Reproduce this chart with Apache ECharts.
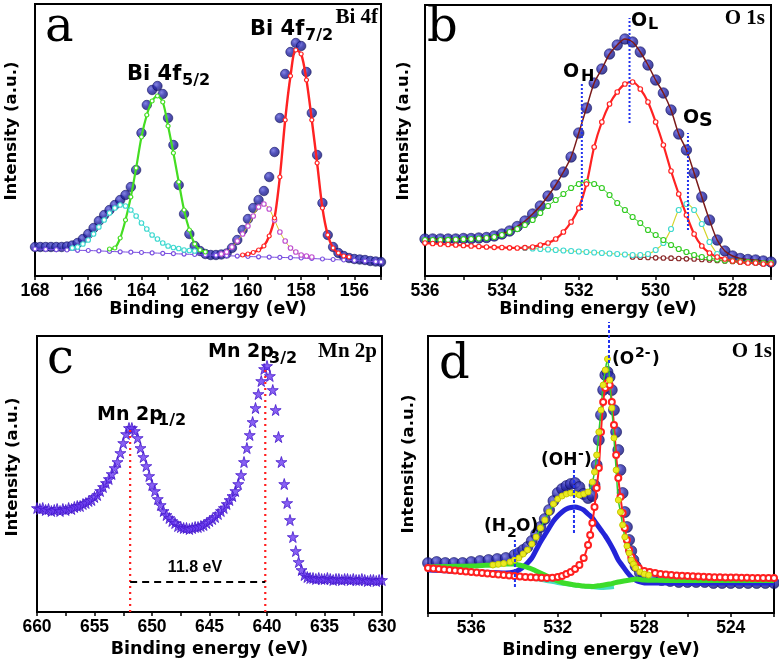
<!DOCTYPE html>
<html><head><meta charset="utf-8">
<script src="https://cdn.jsdelivr.net/npm/echarts@6/dist/echarts.min.js"></script>
<style>html,body{margin:0;padding:0;background:#fff}#c{width:779px;height:666px}</style>
</head><body><div id="c"></div>
<script>
// ---------- Panel a : Bi 4f ----------
const aLabels = [156,158,160,162,164,166,168];
const aTicks = [155,156,157,158,159,160,161,162,163,164,165,166,167,168];
const aData = [[168.0,29],[167.8,29],[167.6,29],[167.4,29],[167.2,29],[167.0,29],[166.8,29.5],[166.6,30.5],[166.4,33],[166.2,37],[166.0,42],[165.8,48],[165.6,55],[165.4,61],[165.2,66],[165.0,71],[164.8,76],[164.6,81],[164.4,89],[164.2,106],[164.0,143],[163.8,171],[163.6,186],[163.4,190],[163.2,182],[163.0,158],[162.8,131],[162.6,91],[162.4,62],[162.2,42],[162.0,30],[161.8,25],[161.6,22],[161.4,21],[161.2,21],[161.0,21.5],[160.8,22.5],[160.6,28],[160.4,36],[160.2,46],[160.0,57],[159.8,68],[159.6,76],[159.4,85],[159.2,99],[159.0,124],[158.8,158],[158.6,202],[158.4,224],[158.2,233],[158.0,230],[157.8,204],[157.6,163],[157.4,121],[157.2,73],[157.0,41],[156.8,29],[156.6,23],[156.4,20],[156.2,18],[156.0,17],[155.8,16.5],[155.6,16],[155.4,15],[155.2,14.5],[155.0,14]];
const aGreen = [[165.2,27],[165.0,28],[164.8,38],[164.6,56],[164.4,79],[164.2,108],[164.0,139],[163.8,161],[163.6,175],[163.4,180],[163.2,174],[163.0,150],[162.8,123],[162.6,94],[162.4,66],[162.2,46],[162.0,32],[161.8,26],[161.6,24]];
const aCyan = [[166.6,28],[166.4,29],[166.2,32],[166.0,36],[165.8,42],[165.6,49],[165.4,56],[165.2,63],[165.0,68],[164.8,71],[164.6,70],[164.4,66],[164.2,60],[164.0,53],[163.8,47],[163.6,41],[163.4,37],[163.2,33],[163.0,30],[162.8,28.5],[162.6,27.5],[162.4,26],[162.2,25.5],[162.0,25]];
const aRed = [[160.2,21],[160.0,22],[159.8,23.5],[159.6,26],[159.4,30],[159.2,40],[159.0,58],[158.8,99],[158.6,156],[158.4,200],[158.2,226],[158.0,222],[157.8,196],[157.6,156],[157.4,113],[157.2,68],[157.0,41],[156.8,28],[156.6,23],[156.4,20],[156.2,19]];
const aMagenta = [[161.0,22],[160.8,24],[160.6,29],[160.4,35],[160.2,42],[160.0,50],[159.8,60],[159.6,69],[159.4,72],[159.2,67],[159.0,56],[158.8,44],[158.6,35],[158.4,28],[158.2,24],[158.0,21],[157.8,20],[157.6,19]];
const aBase = [[168.0,27],[167.6,26.6],[167.2,26.3],[166.8,26],[166.4,25.7],[166.0,25.5],[165.6,25.1],[165.2,24.6],[164.8,24.2],[164.4,23.8],[164.0,23.5],[163.6,23.1],[163.2,22.7],[162.8,22.3],[162.4,21.9],[162.0,21.5],[161.6,21.1],[161.2,20.7],[160.8,20.3],[160.4,19.9],[160.0,19.5],[159.6,19.2],[159.2,18.9],[158.8,18.6],[158.4,18.3],[158.0,18],[157.6,17.5],[157.2,17],[156.8,16.5],[156.4,16],[156.0,15.5],[155.6,14.9],[155.2,14.3],[155.0,14]];

// ---------- Panel b : O 1s ----------
const bLabels = [528,530,532,534,536];
const bTicks = [527,528,529,530,531,532,533,534,535,536];
const bData = [[536.0,37],[535.8,37],[535.6,37],[535.4,37],[535.2,37],[535.0,37.5],[534.8,37.5],[534.6,38],[534.4,38.5],[534.2,40],[534.0,42],[533.8,45],[533.6,49.5],[533.4,55],[533.2,62],[533.0,70],[532.8,80],[532.6,91],[532.4,104],[532.2,119],[532.0,143],[531.8,168],[531.6,193],[531.4,207],[531.2,222],[531.0,231],[530.8,237],[530.6,234],[530.4,224],[530.2,211],[530.0,196],[529.8,183],[529.6,166],[529.4,142],[529.2,126],[529.0,103],[528.8,79],[528.6,56],[528.4,36],[528.2,25],[528.0,20],[527.8,17.5],[527.6,16.5],[527.4,16],[527.2,15],[527.0,14]];
const bRed = [[536.0,33],[535.8,32.5],[535.6,32],[535.4,31.5],[535.2,31],[535.0,30.5],[534.8,30],[534.6,29.5],[534.4,29],[534.2,28.7],[534.0,28.5],[533.8,28.2],[533.6,28],[533.4,28.3],[533.2,29],[533.0,31],[532.8,33],[532.6,37],[532.4,44],[532.2,54],[532.0,68],[531.8,92],[531.6,129],[531.4,154],[531.2,172],[531.0,184],[530.8,192],[530.6,194],[530.4,187],[530.2,174],[530.0,154],[529.8,131],[529.6,105],[529.4,82],[529.2,61],[529.0,42],[528.8,30],[528.6,23],[528.4,19],[528.2,17],[528.0,15],[527.8,14],[527.6,13],[527.4,13],[527.2,12],[527.0,12]];
const bGreen = [[536.0,36],[535.8,36],[535.6,36],[535.4,36.2],[535.2,36.5],[535.0,36.8],[534.8,37],[534.6,37.5],[534.4,38],[534.2,39],[534.0,41],[533.8,44],[533.6,47],[533.4,51],[533.2,56],[533.0,63],[532.8,70],[532.6,76],[532.4,82],[532.2,88],[532.0,92],[531.8,94],[531.6,92],[531.4,88],[531.2,81],[531.0,73],[530.8,66],[530.6,59],[530.4,53],[530.2,46],[530.0,41],[529.8,36],[529.6,31],[529.4,27],[529.2,24],[529.0,21],[528.8,19],[528.6,18],[528.4,16.5],[528.2,15.5],[528.0,15],[527.8,14.5],[527.6,14],[527.4,13.5],[527.2,13],[527.0,13]];
const bCyan = [[533.4,28],[533.2,27.5],[533.0,27],[532.8,26.5],[532.6,26],[532.4,25.5],[532.2,25],[532.0,24.5],[531.8,24],[531.6,23.5],[531.4,23],[531.2,22.5],[531.0,22],[530.8,21.5],[530.6,21],[530.4,21],[530.2,22],[530.0,26],[529.8,33],[529.6,47],[529.4,66],[529.2,72],[529.0,66],[528.8,52],[528.6,34],[528.4,22]];
const bBrown = [[530.6,19],[530.4,18.8],[530.2,18.5],[530.0,18.2],[529.8,18],[529.6,17.8],[529.4,17.5],[529.2,17.2],[529.0,17],[528.8,16.5],[528.6,16],[528.4,15.5],[528.2,15],[528.0,14.5],[527.8,14],[527.6,13.8],[527.4,13.5],[527.2,13.2],[527.0,13]];
const bMarkOH = [[531.92,66],[531.92,193]];
const bMarkOL = [[530.68,153],[530.68,258]];
const bMarkOS = [[529.16,46],[529.16,143]];

// ---------- Panel c : Mn 2p ----------
const cLabels = [630,635,640,645,650,655,660];
const cTicks = [630,632.5,635,637.5,640,642.5,645,647.5,650,652.5,655,657.5,660];
const cData = [[660,104],[659.75,103],[659.5,104],[659.25,102],[659,103],[658.75,101],[658.5,102],[658.25,103],[658,101],[657.75,103],[657.5,102],[657.25,104],[657,103],[656.75,105],[656.5,106],[656.25,106],[656,108],[655.75,109],[655.5,111],[655.25,112],[655,115],[654.75,117],[654.5,121],[654.25,125],[654,129],[653.75,133],[653.5,138],[653.25,144],[653,150],[652.75,159],[652.5,169],[652.25,178],[652,184],[651.75,184],[651.5,181],[651.25,174],[651,164],[650.75,155],[650.5,146],[650.25,136],[650,127],[649.75,121],[649.5,113],[649.25,107],[649,101],[648.75,97],[648.5,94],[648.25,91],[648,89],[647.75,86],[647.5,85],[647.25,84],[647,84],[646.75,83],[646.5,84],[646.25,85],[646,85],[645.75,86],[645.5,87],[645.25,89],[645,91],[644.75,93],[644.5,95],[644.25,98],[644,101],[643.75,104],[643.5,108],[643.25,112],[643,116],[642.75,121],[642.5,128],[642.25,137],[642,150],[641.75,164],[641.5,177],[641.25,190],[641,204],[640.75,218],[640.5,231],[640.25,243],[640,246],[639.75,236],[639.5,222],[639.25,202],[639,175],[638.75,150],[638.5,128],[638.25,109],[638,92],[637.75,75],[637.5,61],[637.25,50],[637,42],[636.75,37],[636.5,35],[636.25,34],[636,34],[635.75,33],[635.5,34],[635.25,33],[635,33],[634.75,34],[634.5,33],[634.25,32],[634,33],[633.75,33],[633.5,32],[633.25,33],[633,33],[632.75,32],[632.5,33],[632.25,32],[632,32],[631.75,33],[631.5,32],[631.25,31],[631,32],[630.75,32],[630.5,31],[630.25,32],[630,32]];
const cMark12 = [[651.9,0],[651.9,183]];
const cMark32 = [[640.15,0],[640.15,243]];
const cSplit = [[651.9,30],[640.15,30]];

// ---------- Panel d : O 1s ----------
const dLabels = [524,528,532,536];
const dTicks = [522,524,526,528,530,532,534,536,538];
const dData = [[538.0,50],[537.6,51],[537.2,50],[536.8,50],[536.4,50],[536.0,51],[535.6,52],[535.2,53],[534.8,54],[534.4,55],[534.0,58],[533.8,60],[533.6,63],[533.4,66],[533.2,72],[533.0,79],[532.8,86],[532.6,94],[532.4,103],[532.2,112],[532.0,120],[531.8,124],[531.6,127],[531.4,129],[531.2,130],[531.0,126],[530.8,119],[530.6,115],[530.4,117],[530.3,128],[530.2,148],[530.1,173],[530.0,198],[529.9,223],[529.8,238],[529.7,241],[529.6,236],[529.5,223],[529.4,203],[529.3,181],[529.2,163],[529.1,143],[529.0,120],[528.9,101],[528.8,86],[528.7,73],[528.6,62],[528.5,53],[528.4,47],[528.2,40],[528.0,37],[527.6,34],[527.2,33],[526.8,32],[526.4,31],[526.0,31],[525.6,31],[525.2,31],[524.8,30],[524.4,30],[524.0,30],[523.6,30],[523.2,30],[522.8,30],[522.4,30],[522.0,30]];
const dYellow = [[535.0,48],[534.75,48.7],[534.5,49.5],[534.2,51],[534.0,53],[533.8,55],[533.6,59],[533.4,63],[533.2,69],[533.0,76],[532.8,85],[532.6,93],[532.4,101],[532.2,109],[532.0,114],[531.8,117],[531.6,119],[531.4,120],[531.2,119],[531.0,118],[530.8,119],[530.6,121],[530.4,131],[530.3,141],[530.2,158],[530.1,181],[530.0,203],[529.9,228],[529.8,243],[529.7,254],[529.6,233],[529.5,205],[529.4,175],[529.3,143],[529.2,113],[529.1,101],[529.0,88],[528.9,76],[528.8,67],[528.7,60],[528.6,53],[528.5,49],[528.4,45],[528.2,41],[528.0,39],[527.8,38]];
const dRed = [[538.0,45],[537.75,44.5],[537.5,44],[537.25,43.5],[537.0,43],[536.75,42.5],[536.5,42],[536.25,41.5],[536.0,41],[535.75,40.5],[535.5,40],[535.25,39.5],[535.0,39],[534.75,38.5],[534.5,38],[534.25,37.5],[534.0,37],[533.75,36.5],[533.5,36],[533.25,35.8],[533.0,35.5],[532.75,35.2],[532.5,35],[532.25,35.3],[532.0,36],[531.8,37],[531.6,39],[531.4,41],[531.2,44],[531.0,48],[530.8,55],[530.6,68],[530.5,78],[530.4,90],[530.3,106],[530.2,125],[530.1,145],[530.0,181],[529.9,211],[529.8,225],[529.7,230],[529.6,228],[529.5,211],[529.4,188],[529.3,158],[529.2,135],[529.1,116],[529.0,100],[528.9,85],[528.8,73],[528.7,63],[528.6,56],[528.5,51],[528.4,48],[528.25,45],[528.0,42],[527.75,41],[527.5,40],[527.25,39],[527.0,38.5],[526.75,38],[526.5,37.5],[526.25,37.2],[526.0,37],[525.75,36.8],[525.5,36.5],[525.25,36.3],[525.0,36],[524.75,35.8],[524.5,35.7],[524.25,35.6],[524.0,35.5],[523.75,35.4],[523.5,35.3],[523.25,35.2],[523.0,35],[522.75,35],[522.5,35],[522.25,35],[522.0,35]];
const dBlueFit = [[538.0,43],[537.0,42],[536.0,41],[535.0,40.5],[534.4,40],[534.0,41],[533.8,43],[533.6,46],[533.4,50],[533.2,55],[533.0,63],[532.8,71],[532.6,78],[532.4,85],[532.2,92],[532.0,97],[531.8,101],[531.6,104],[531.4,105.5],[531.2,106],[531.0,105],[530.8,103],[530.6,99],[530.4,95],[530.2,89],[530.0,83],[529.8,77],[529.6,70],[529.4,62],[529.2,53],[529.0,47],[528.8,41],[528.6,36],[528.4,33],[528.2,31],[528.0,30],[527.0,30],[526.0,30],[525.0,30],[524.0,30],[523.0,30],[522.0,30]];
const dGreen = [[538.0,46],[537.5,46.3],[537.0,46.5],[536.5,46.8],[536.0,47],[535.5,47.5],[535.0,48],[534.75,48.5],[534.5,49],[534.25,49],[534.0,49],[533.8,48],[533.6,47],[533.4,45.5],[533.2,44],[533.0,42],[532.8,40],[532.6,38],[532.4,36],[532.2,34],[532.0,32],[531.8,30.5],[531.6,29.5],[531.4,28.7],[531.2,28],[531.0,27.5],[530.8,27],[530.6,26.7],[530.4,26.5],[530.2,27],[530.0,27.5],[529.8,28.2],[529.6,29],[529.4,30],[529.2,31],[529.0,31.8],[528.8,32.5],[528.6,33.2],[528.4,34],[528.2,33.5],[528.0,33],[527.5,32.7],[527.0,32.5],[526.0,32.5],[525.0,32.5],[524.0,32.5],[523.0,32.5],[522.0,32.5]];
const dCyan = [[534.0,37],[533.5,35.5],[533.0,34],[532.5,32],[532.0,30],[531.5,28.5],[531.0,27],[530.5,26],[530.0,25],[529.4,26]];
const dMarkH2O = [[533.98,26],[533.98,73]];
const dMarkOH = [[531.25,80],[531.25,145]];
const dMarkO2 = [[529.63,250],[529.63,291]];

// ---------- build ----------
const SANS = '"Liberation Sans", Arial, sans-serif';
const DJ = '"DejaVu Sans", sans-serif';
const SERIF = '"DejaVu Serif", serif';
const SPHERE = {type:'radial', x:0.38, y:0.35, r:0.7, colorStops:[{offset:0,color:'#6464dc'},{offset:0.45,color:'#2626aa'},{offset:1,color:'#10106c'}]};
const STAR = 'path://M50,0 L61,35 L98,35 L68,57 L79,91 L50,70 L21,91 L32,57 L2,35 L39,35 Z';

const grids = [
  {left:35, top:4, width:346, height:272},
  {left:425, top:5, width:346, height:271},
  {left:37, top:336, width:345, height:276},
  {left:428, top:336, width:346, height:277}
].map(g => Object.assign(g, {show:true, borderColor:'#000', borderWidth:2, backgroundColor:'transparent'}));

function xAx(i, min, max, labels, ticks, gap) {
  return {gridIndex:i, type:'value', min, max, inverse:true,
    axisLine:{show:true, lineStyle:{color:'#000', width:2}},
    axisTick:{show:true, inside:false, length:4, lineStyle:{color:'#000', width:1.5}, customValues:ticks},
    axisLabel:{customValues:labels, color:'#000', fontFamily:SANS, fontWeight:'bold', fontSize:17.5, margin:6},
    splitLine:{show:false},
    name:'Binding energy (eV)', nameLocation:'middle', nameGap:gap,
    nameTextStyle:{color:'#000', fontFamily:DJ, fontWeight:'bold', fontSize:17.5}};
}
function yAx(i, h) { return {gridIndex:i, type:'value', min:0, max:h, show:false}; }

function dots(g, data, size) {
  return {type:'scatter', xAxisIndex:g, yAxisIndex:g, data, symbol:'circle', symbolSize:size,
    itemStyle:{color:SPHERE, borderColor:'#0b0b5c', borderWidth:0.7}, silent:true};
}
function fit(g, data, c, o) {
  o = o || {};
  return {type:'line', xAxisIndex:g, yAxisIndex:g, data, smooth:0.3, showAllSymbol:true,
    symbol:o.symbol || 'circle', symbolSize:o.size || 4.5, showSymbol:o.noSym ? false : true,
    itemStyle:{color:o.fill || '#fff', borderColor:c, borderWidth:o.bw || 1.2},
    lineStyle:{color:o.line || c, width:o.lw === undefined ? 2 : o.lw},
    silent:true};
}
function vline(g, data, c, dash, w) {
  return {type:'line', xAxisIndex:g, yAxisIndex:g, data, symbol:'none', clip:false,
    lineStyle:{color:c, width:w || 2, type:dash}, silent:true, z:5};
}

const series = [
  // a
  dots(0, aData, 9.5),
  fit(0, aBase, '#7a4fe0', {lw:1, size:4}),
  fit(0, aCyan, '#3fd9d0', {lw:1, size:4.5}),
  fit(0, aGreen, '#44dd22', {lw:2.2, size:4}),
  fit(0, aMagenta, '#c050d0', {lw:1, line:'#d8c820', size:4.5}),
  fit(0, aRed, '#ff2222', {lw:2.4, size:4}),
  // b
  dots(1, bData, 10.5),
  fit(1, bBrown, '#8a2a2a', {lw:1, size:4.5}),
  fit(1, bCyan, '#3fd9d0', {lw:1.2, line:'#d4d42a', size:5}),
  fit(1, bGreen, '#33cc22', {lw:1, size:5}),
  fit(1, bRed, '#ff2222', {lw:2.2, size:4.5}),
  fit(1, bData, '#7a1a1a', {lw:1.5, noSym:true}),
  vline(1, bMarkOH, '#2233ee', [2,2], 2),
  vline(1, bMarkOL, '#2233ee', [2,2], 2),
  vline(1, bMarkOS, '#2233ee', [2,2], 2),
  // c
  vline(2, cMark12, '#ff2020', [2,4], 2.2),
  vline(2, cMark32, '#ff2020', [2,4], 2.2),
  vline(2, cSplit, '#000', [7,5], 2),
  {type:'scatter', xAxisIndex:2, yAxisIndex:2, data:cData, symbol:STAR, symbolSize:11,
    itemStyle:{color:'#6a3af0', borderColor:'#4418cc', borderWidth:1}, silent:true},
  // d
  dots(3, dData, 11),
  fit(3, dCyan, '#45e0c0', {lw:4, noSym:true}),
  fit(3, dBlueFit, '#2424d8', {lw:5, noSym:true}),
  fit(3, dRed, '#ff2020', {lw:2, size:6, bw:2, fill:'#fff'}),
  fit(3, dGreen, '#3ddc2a', {lw:5, noSym:true}),
  fit(3, dYellow, '#c8c800', {lw:1.5, line:'#2ecc2e', size:6, fill:'#eaea20', bw:1}),
  vline(3, dMarkH2O, '#2233ee', [3,2], 2),
  vline(3, dMarkOH, '#2233ee', [3,2], 2),
  vline(3, dMarkO2, '#2233ee', [3,2], 2)
];

function T(x, y, text, font, align, rot) {
  return {type:'text', x, y, rotation:rot || 0, silent:true, z:100,
    style:{text, fill:'#000', font, align:align || 'left', verticalAlign:'middle',
      textAlign:align || 'left', textVerticalAlign:'middle'}};
}
const L = 'bold 19px ' + DJ, LB = 'bold 21px ' + DJ, LS = 'bold 16px ' + DJ;
const BIG = 'normal 48px ' + SERIF, ST = 'bold 21px "Liberation Serif", serif';
const YT = 'bold 16.5px ' + DJ;
const graphics = [
  // a
  T(45, 29, 'a', BIG), T(378, 18, 'Bi 4f', ST, 'right'),
  T(127, 75, 'Bi 4f', LB), T(182, 81, '5/2', LS),
  T(250, 30, 'Bi 4f', LB), T(305, 36, '7/2', LS),
  T(12, 131, 'Intensity (a.u.)', YT, 'center', Math.PI/2),
  // b
  T(427, 29, 'b', BIG), T(765, 19, 'O 1s', ST, 'right'),
  T(563, 72, 'O', L), T(581, 77, 'H', LS),
  T(631, 21, 'O', L), T(648, 25, 'L', LS),
  T(683, 118, 'O', L), T(699, 121, 'S', L),
  T(404, 131, 'Intensity (a.u.)', YT, 'center', Math.PI/2),
  // c
  T(47, 361, 'c', BIG), T(377, 352, 'Mn 2p', ST, 'right'),
  T(97, 415, 'Mn 2p', L), T(158, 421, '1/2', LS),
  T(208, 352, 'Mn 2p', L), T(269, 359, '3/2', LS),
  T(195, 568, '11.8 eV', 'bold 16px ' + SANS, 'center'),
  T(13, 467, 'Intensity (a.u.)', YT, 'center', Math.PI/2),
  // d
  T(439, 366, 'd', BIG), T(772, 352, 'O 1s', ST, 'right'),
  T(484, 527, '(H', 'bold 17px ' + DJ), T(507, 533, '2', 'bold 14px ' + DJ), T(516, 527, 'O)', 'bold 17px ' + DJ),
  T(541, 461, '(OH', 'bold 17px ' + DJ), T(578, 454, '-', 'bold 14px ' + DJ), T(584, 461, ')', 'bold 17px ' + DJ),
  T(612, 360, '(O', 'bold 17px ' + DJ), T(635, 353, '2-', 'bold 14px ' + DJ), T(652, 360, ')', 'bold 17px ' + DJ),
  T(409, 464, 'Intensity (a.u.)', YT, 'center', Math.PI/2)
];

const chart = echarts.init(document.getElementById('c'), null, {renderer:'canvas'});
chart.setOption({
  animation:false,
  backgroundColor:'#fff',
  grid:grids,
  xAxis:[xAx(0,155,168,aLabels,aTicks,20), xAx(1,527,536,bLabels,bTicks,20), xAx(2,630,660,cLabels,cTicks,28), xAx(3,522,538,dLabels,dTicks,28)],
  yAxis:[yAx(0,272), yAx(1,271), yAx(2,276), yAx(3,277)],
  series,
  graphic:graphics
});
</script></body></html>
